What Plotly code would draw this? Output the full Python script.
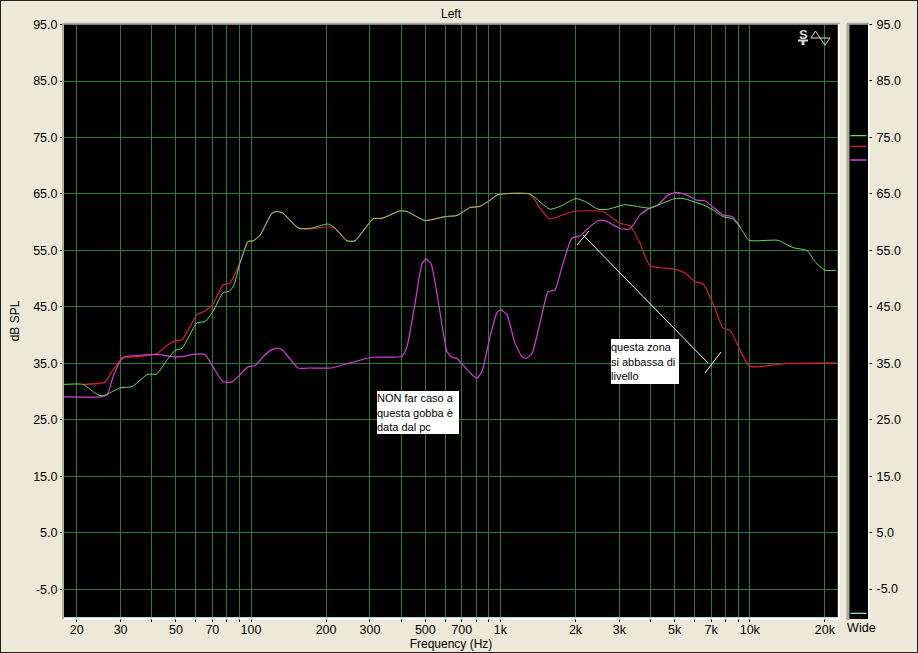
import plotly.graph_objects as go

W, H = 918, 653

green_hz = [17.8,21.2,23.3,24.8,26.0,30.0,33.3,38.6,41.8,46.0,49.6,52.9,60.7,65.4,70.4,77.2,82.0,85.5,90.3,97.3,101.9,108.7,121.4,127.2,134.4,154.4,172.4,203.6,217,242.7,261.2,308.5,335.2,395.7,422.2,498.6,599.8,669.9,755.2,828.3,908.5,978,1314,1442,1581,1734,2010,2224,2462,2700,3159,3979,4487,5013,5398,6491,7119,7807,8561,9305,9926,12972,14899,16957,18254,20021,22160]
green_db = [31.3,31.3,30.0,29.3,29.4,30.7,30.9,33.1,33.1,35.6,37.3,37.7,42.2,42.4,44.2,47.5,47.8,48.9,52.8,56.6,56.7,57.7,61.6,61.9,61.6,59.0,58.9,59.7,59.0,56.7,56.7,60.6,60.7,62.0,61.9,60.3,61.0,61.2,62.6,62.8,63.9,64.9,65.0,63.6,62.3,62.8,64.2,63.5,62.3,62.3,63.1,62.5,63.4,64.2,64.2,63.1,62.2,61.0,60.6,58.6,56.8,56.8,55.5,55.0,53.0,51.5,51.5]

red_hz = [21.2,26.0,27.7,30.0,31.2,34.9,41.8,46.0,49.6,52.9,60.7,65.4,70.4,77.2,82.0,90.3,97.3,101.9,108.7,121.4,127.2,134.4,154.4,172.4,203.6,217,242.7,261.2,308.5,335.2,395.7,422.2,498.6,599.8,669.9,755.2,828.3,908.5,978,1314,1442,1581,1955,2579,3017,3308,3628,3979,5013,5499,6032,6491,7119,7807,8330,9135,9926,10688,14098,22160]
red_db = [31.3,31.7,33.6,35.5,36.1,36.2,36.7,38.2,39.0,39.2,43.6,44.3,45.5,48.9,49.2,52.8,56.6,56.7,57.7,61.6,61.9,61.6,59.0,58.8,59.2,58.9,56.7,56.7,60.6,60.7,62.0,61.9,60.3,61.0,61.2,62.6,62.8,63.9,64.9,65.0,62.5,60.6,61.9,61.9,59.8,59.4,56.3,52.3,51.7,51.0,49.5,49.1,45.6,41.3,40.9,37.4,34.6,34.4,35.0,35.1]

magenta_hz = [17.8,24.8,26.5,28.0,30.3,31.2,41.8,48.7,52.9,58.5,65.4,70.4,77.2,83.7,97.3,103.8,111.7,121.4,129.2,134.4,154.4,172.4,209,249.5,305.7,403.2,422.2,454.6,484.9,503.0,526.9,556.9,610.9,639.7,669.9,708.1,769.4,805.8,843.8,908.5,969,1005.6,1063,1144,1221,1267,1339,1442,1552,1655,1766,1937,2085,2246,2462,2626,3017,3308,3628,3979,4285,4699,5107,5601,6142,6612,7119,7807,8482,9220]
magenta_db = [29.1,29.1,29.4,32.7,35.9,36.2,36.6,36.2,36.2,36.6,36.6,34.4,31.8,31.7,34.4,34.6,36.2,37.5,37.7,37.3,34.2,34.2,34.2,35.1,36.1,36.3,38.0,45.6,52.7,53.5,52.7,47.4,37.1,36.1,35.9,34.7,33.0,32.4,33.6,39.7,44.0,44.5,43.6,38.6,36.2,35.9,36.8,42.2,47.7,48.0,52.1,57.2,57.6,58.9,60.3,60.3,58.9,58.8,61.3,62.5,63.1,64.8,65.3,64.8,63.9,63.8,62.7,61.3,61.0,59.0]

grid_hz = [20,30,40,50,60,70,80,90,100,200,300,400,500,600,700,800,900,1000,2000,3000,4000,5000,6000,7000,8000,9000,10000,20000]
grid_txt = ["20","30","","50","","70","","","100","200","300","","500","","700","","","1k","2k","3k","","5k","","7k","","","10k","20k"]
db_ticks = [-5,5,15,25,35,45,55,65,75,85,95]
db_txt = ["-5.0","5.0","15.0","25.0","35.0","45.0","55.0","65.0","75.0","85.0","95.0"]

key_db = [75.3, 73.4, 71.0, -9.3]

BG = "#ECE9D8"
GRID = "#2B7A36"
C_GREEN = "#66DD66"
C_RED = "#D4202A"
C_MAG = "#D43FD4"
FONT = "Liberation Sans"

def px(x): return x / W
def py(y): return 1 - y / H

fig = go.Figure()
curve = dict(shape="spline", smoothing=0.5)
fig.add_trace(go.Scatter(x=red_hz, y=red_db, mode="lines", line=dict(color=C_RED, width=1.2, **curve), showlegend=False))
fig.add_trace(go.Scatter(x=magenta_hz, y=magenta_db, mode="lines", line=dict(color=C_MAG, width=1.2, **curve), showlegend=False))
fig.add_trace(go.Scatter(x=green_hz, y=green_db, mode="lines", line=dict(color=C_GREEN, width=1, **curve), showlegend=False))
for lvl, col in zip(key_db, [C_GREEN, C_RED, C_MAG, "#8FD8D8"]):
    fig.add_trace(go.Scatter(x=[0.08, 0.92], y=[lvl, lvl], mode="lines", xaxis="x2", yaxis="y2",
                             line=dict(color=col, width=1.3), showlegend=False))

tickfont = dict(family=FONT, size=12.5, color="#000000")
titlefont = dict(family=FONT, size=12, color="#000000")
fig.update_layout(
    width=W, height=H, margin=dict(l=0, r=0, t=0, b=0, autoexpand=False),
    paper_bgcolor=BG, plot_bgcolor="#000000",
    font=dict(family=FONT, color="#000000"),
    title=dict(text="Left", x=451/W, xanchor="center", y=py(14), yanchor="middle", font=titlefont, automargin=False),
    xaxis=dict(type="log", domain=[px(64), px(838)], range=[1.2502, 4.3537], tickmode="array",
               tickvals=grid_hz, ticktext=grid_txt, tickfont=tickfont, ticks="outside", ticklen=3,
               tickcolor="#000000", showgrid=True, gridcolor=GRID, gridwidth=1, zeroline=False,
               ticklabelstandoff=-3,
               title=dict(text="Frequency (Hz)", font=titlefont, standoff=4),
               anchor="y", showline=False),
    yaxis=dict(domain=[py(617.5), py(24.5)], range=[-9.96, 95], tickmode="array", tickvals=db_ticks, ticktext=db_txt,
               tickfont=tickfont, ticks="outside", ticklen=3, tickcolor="#000000", showgrid=True, gridcolor=GRID,
               gridwidth=1, zeroline=False, title=dict(text="dB SPL", font=titlefont, standoff=10),
               anchor="x", showline=False),
    xaxis2=dict(domain=[px(849), px(868)], range=[0, 1], tickmode="array", tickvals=[0.65], ticktext=["Wide"],
                tickfont=tickfont, ticks="", showgrid=False, zeroline=False, anchor="y2", ticklabelstandoff=-1),
    yaxis2=dict(domain=[py(619), py(24.5)], range=[-10.3, 95], side="right", anchor="x2", tickmode="array",
                tickvals=db_ticks, ticktext=db_txt, tickfont=tickfont, ticks="outside", ticklen=3,
                tickcolor="#000000", showgrid=False, zeroline=False, ticklabelstandoff=2),
)

def seg(x0, y0, x1, y1, color, width=1, layer="above"):
    return dict(type="line", xref="paper", yref="paper", x0=px(x0), y0=py(y0), x1=px(x1), y1=py(y1),
                line=dict(color=color, width=width), layer=layer)

shapes = [
    dict(type="rect", xref="paper", yref="paper", x0=0, y0=0, x1=1, y1=1, line=dict(color="#222222", width=2)),
    seg(63, 23.5, 840, 23.5, "#A8A890", 1.5),
    seg(63, 23, 63, 619, "#B0B09C", 2),
    seg(838.8, 24, 838.8, 619, "#FFFFFF", 2),
    seg(64, 618.8, 840, 618.8, "#FFFFFF", 1.5),
    seg(64, 617.6, 838, 617.6, "#A8E6EE", 1),
    seg(848, 24, 848, 620, "#A8A898", 3),
    seg(847, 23.5, 869, 23.5, "#A8A890", 1.5),
    seg(868.8, 24, 868.8, 620, "#FFFFFF", 1.5),
    seg(583, 235, 708, 363, "#FFFFFF", 1),
    seg(577, 245, 589, 231, "#FFFFFF", 1),
    seg(705, 373, 721, 352, "#FFFFFF", 1),
    dict(type="path", xref="paper", yref="paper",
         path=f"M {px(811)} {py(38)} L {px(815.5)} {py(31)} L {px(820)} {py(38)} L {px(830)} {py(38)} L {px(825)} {py(45)} L {px(820)} {py(38)} Z",
         line=dict(color="#D8D8D8", width=1)),
    seg(798, 40.5, 808, 40.5, "#D8D8D8", 2),
    seg(803, 41, 803, 45, "#D8D8D8", 3),
]
fig.update_layout(shapes=shapes)

def note(text, x0, y0, w, h):
    return dict(text=text, xref="paper", yref="paper", x=px(x0), y=py(y0), xanchor="left", yanchor="top",
                showarrow=False, align="left", bgcolor="#FFFFFF", width=w, height=h, borderpad=0, borderwidth=0,
                font=dict(family=FONT, size=11, color="#000000"))

fig.update_layout(annotations=[
    note("NON far caso a<br>questa gobba è<br>data dal pc", 377, 391, 82, 43),
    note("questa zona<br>si abbassa di<br>livello", 611, 339, 68, 45),
    dict(text="<b>S</b>", xref="paper", yref="paper", x=px(803), y=py(34), yanchor="middle", xanchor="center", showarrow=False,
         font=dict(family=FONT, size=13, color="#D8D8D8")),
])

fig.write_html("out.html", config=dict(displayModeBar=False), post_script="document.body.style.margin='0';document.body.style.overflow='hidden';")
